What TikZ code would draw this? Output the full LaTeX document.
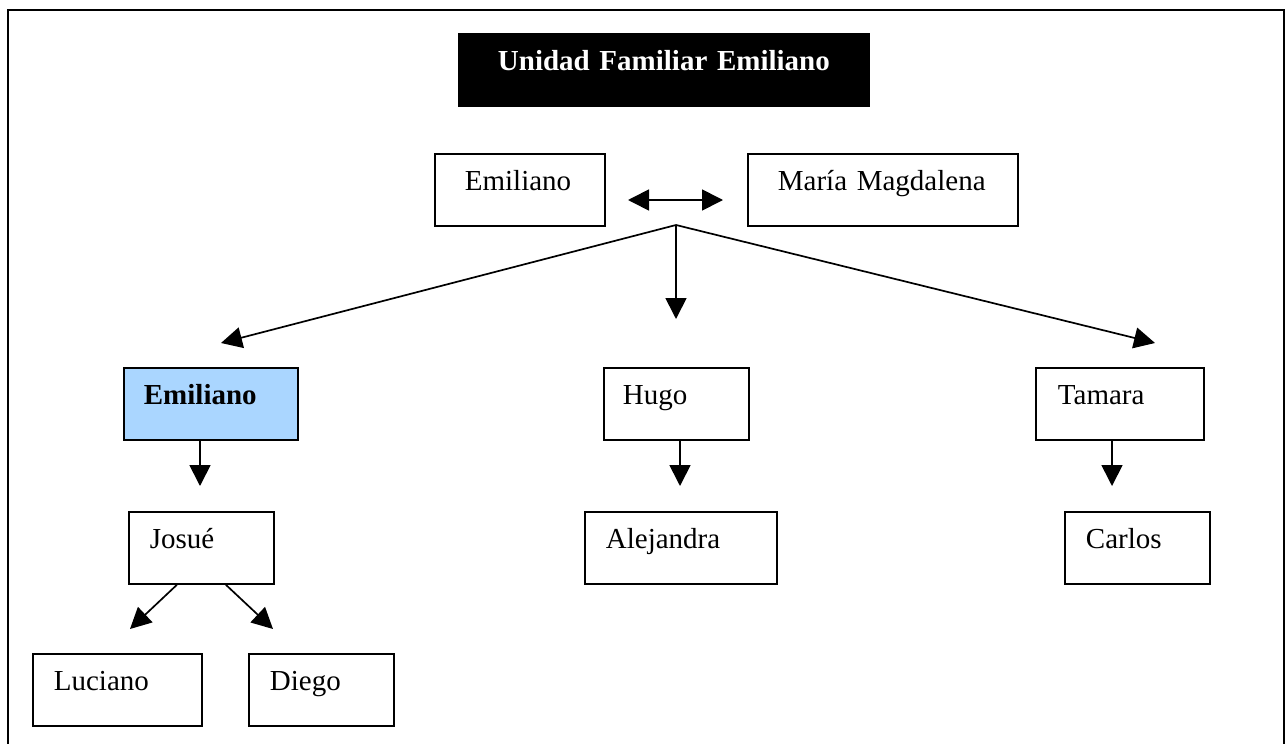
\documentclass[tikz,border=0pt]{standalone}
\usepackage{fontspec}
\setmainfont{Liberation Serif}
\usepackage{xcolor}
\usetikzlibrary{arrows.meta}
\definecolor{celeste}{RGB}{170,214,255}

\tikzset{
  caja/.style = {draw, line width=0.9pt, anchor=north west, align=left,
                 inner ysep=0pt, inner xsep=10.5pt, text height=18.5pt,
                 text depth=17.5pt, font=\fontsize{14.5}{16}\selectfont},
  flecha/.style = {line width=0.85pt, -{Triangle[length=10.5pt,width=10.5pt]}}
}

\begin{document}
\begin{tikzpicture}[x=0.5pt, y=-0.5pt]
			\useasboundingbox (0,0) rectangle (1285,744);
			\draw [line width=1pt] (8,746) to (8,9.5) to (1283.5,9.5) to (1283.5,746);

			% titulo
			\node [caja, fill=black, text=white, inner xsep=0pt, text width=205pt, align=center,
				font=\fontsize{14.5}{16}\selectfont\bfseries] (titulo) at (458,33) {Unidad Familiar Emiliano};

			% padres
			\node [caja, inner xsep=15pt, text width=55pt] (emi) at (434,153) {Emiliano};
			\node [caja, inner xsep=15pt, text width=105pt] (maria) at (747,153) {María Magdalena};

			% hijos
			\node [caja, fill=celeste, inner xsep=10pt, text width=67pt,
				font=\fontsize{14.5}{16}\selectfont\bfseries] (emi2) at (123,367) {Emiliano};
			\node [caja, inner xsep=9.5pt, text width=53.5pt] (hugo) at (603,367) {Hugo};
			\node [caja, inner xsep=11pt, text width=62pt] (tamara) at (1035,367) {Tamara};

			% nietos
			\node [caja, text width=51.5pt] (josue) at (128,511) {Josué};
			\node [caja, text width=75pt] (alejandra) at (584,511) {Alejandra};
			\node [caja, text width=51.5pt] (carlos) at (1064,511) {Carlos};

			% bisnietos
			\node [caja, text width=63.5pt] (luciano) at (32,653) {Luciano};
			\node [caja, text width=51.5pt] (diego) at (248,653) {Diego};

			% puntas libres
			\coordinate (parejaL) at (628,200);
			\coordinate (parejaR) at (723,200);
			\coordinate (union) at (676,225);
			\coordinate (aEmi) at (221,343);
			\coordinate (aHugo) at (676,319);
			\coordinate (aTamara) at (1155,343);
			\coordinate (aJosue) at (200,486);
			\coordinate (aAlejandra) at (680,486);
			\coordinate (aCarlos) at (1112,486);
			\coordinate (aLuciano) at (130,629);
			\coordinate (aDiego) at (273,629);

			\draw [flecha, {Triangle[length=10.5pt,width=10.5pt]}-{Triangle[length=10.5pt,width=10.5pt]}] (parejaL) to (parejaR);
			\draw [flecha] (union) to (aEmi);
			\draw [flecha] (union) to (aHugo);
			\draw [flecha] (union) to (aTamara);

			\draw [flecha] (emi2.south -| aJosue) to (aJosue);
			\draw [flecha] (hugo.south -| aAlejandra) to (aAlejandra);
			\draw [flecha] (tamara.south -| aCarlos) to (aCarlos);

			\draw [flecha] ([xshift=-12.25pt]josue.south) to (aLuciano);
			\draw [flecha] ([xshift=12.25pt]josue.south) to (aDiego);
		\end{tikzpicture}
\end{document}
